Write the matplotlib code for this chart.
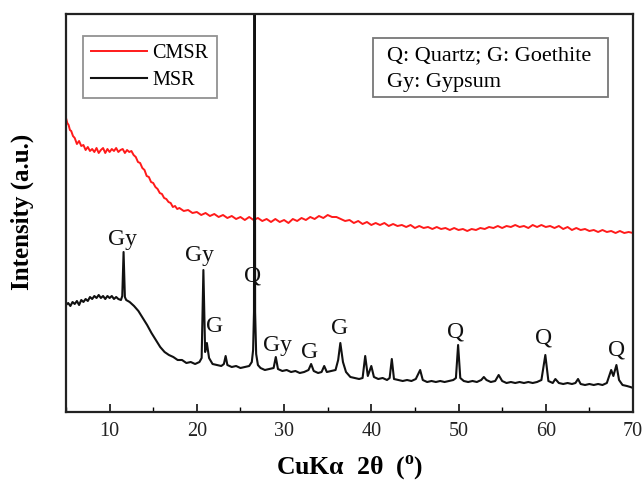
import matplotlib
matplotlib.use("Agg")
import matplotlib.pyplot as plt
from matplotlib.patches import Rectangle

plt.rcParams['font.family'] = ['Liberation Serif', 'DejaVu Serif']
plt.rcParams['mathtext.fontset'] = 'custom'
plt.rcParams['mathtext.rm'] = 'Liberation Serif'
plt.rcParams['mathtext.bf'] = 'Liberation Serif:bold'

# ---------------- data (2theta in degrees, intensity a.u.) ----------------
series_names = ["CMSR", "MSR"]

cmsr_2theta = [5.0, 5.15, 5.3, 5.45, 5.6, 5.8, 6.0, 6.25, 6.5, 6.75,
               7.0, 7.25, 7.5, 7.75, 8.0, 8.25, 8.5, 8.75, 9.0, 9.25,
               9.5, 9.75, 10.0, 10.25, 10.5, 10.75, 11.0, 11.25, 11.5, 11.75,
               12.0, 12.25, 12.5, 12.75, 13.0, 13.25, 13.5, 13.75, 14.0, 14.25,
               14.5, 14.75, 15.0, 15.25, 15.5, 15.75, 16.0, 16.25, 16.5, 16.75,
               17.0, 17.25, 17.5, 17.75, 18.0, 18.5, 19.0, 19.5, 20.0, 20.5,
               21.0, 21.5, 22.0, 22.5, 23.0, 23.5, 24.0, 24.5, 25.0, 25.5,
               26.0, 26.5, 27.0, 27.5, 28.0, 28.5, 29.0, 29.5, 30.0, 30.5,
               31.0, 31.5, 32.0, 32.5, 33.0, 33.5, 34.0, 34.5, 35.0, 35.5,
               36.0, 36.5, 37.0, 37.5, 38.0, 38.5, 39.0, 39.5, 40.0, 40.5,
               41.0, 41.5, 42.0, 42.5, 43.0, 43.5, 44.0, 44.5, 45.0, 45.5,
               46.0, 46.5, 47.0, 47.5, 48.0, 48.5, 49.0, 49.5, 50.0, 50.5,
               51.0, 51.5, 52.0, 52.5, 53.0, 53.5, 54.0, 54.5, 55.0, 55.5,
               56.0, 56.5, 57.0, 57.5, 58.0, 58.5, 59.0, 59.5, 60.0, 60.5,
               61.0, 61.5, 62.0, 62.5, 63.0, 63.5, 64.0, 64.5, 65.0, 65.5,
               66.0, 66.5, 67.0, 67.5, 68.0, 68.5, 69.0, 69.5, 70.0]
cmsr_intensity = [294, 289, 287, 282, 281, 276, 274, 268, 271, 266,
                  267, 262, 265, 261, 263, 260, 264, 259, 262, 264,
                  259, 263, 260, 263, 261, 264, 260, 262, 263, 259,
                  262, 260, 261, 257, 255, 250, 249, 244, 242, 236,
                  235, 230, 229, 225, 223, 219, 218, 214, 213, 210,
                  209, 205, 206, 203, 204, 201, 202, 199, 200, 197,
                  199, 196, 198, 195, 197, 194, 196, 193, 195, 192,
                  195, 192, 194, 191, 193, 190, 193, 190, 192, 189,
                  193, 191, 194, 192, 195, 193, 196, 194, 197, 195,
                  195, 193, 191, 192, 189, 191, 188, 190, 187, 189,
                  187, 189, 186, 188, 186, 187, 185, 187, 184, 186,
                  184, 185, 183, 185, 183, 184, 182, 184, 182, 183,
                  181, 183, 182, 184, 183, 185, 184, 186, 184, 186,
                  185, 187, 185, 186, 184, 187, 185, 187, 185, 186,
                  184, 186, 183, 185, 182, 184, 182, 183, 181, 182,
                  180, 182, 180, 181, 179, 181, 179, 180, 179]

msr_2theta = [5.0, 5.25, 5.5, 5.75, 6.0, 6.25, 6.5, 6.75, 7.0, 7.25,
              7.5, 7.75, 8.0, 8.25, 8.5, 8.75, 9.0, 9.25, 9.5, 9.75,
              10.0, 10.25, 10.5, 10.75, 11.0, 11.3, 11.45, 11.6, 11.75, 11.9,
              12.3, 12.8, 13.3, 13.8, 14.3, 14.8, 15.3, 15.8, 16.3, 16.8,
              17.3, 17.8, 18.3, 18.8, 19.3, 19.8, 20.3, 20.55, 20.75, 20.95,
              21.15, 21.4, 21.8, 22.3, 22.8, 23.1, 23.3, 23.5, 24.0, 24.5,
              25.0, 25.5, 26.0, 26.3, 26.45, 26.55, 26.62, 26.68, 26.8, 27.0,
              27.3, 27.8, 28.3, 28.8,
              29.05, 29.3, 29.8, 30.3, 30.8, 31.3, 31.8, 32.3, 32.8, 33.1,
              33.4, 33.9, 34.3, 34.6, 34.9, 35.4, 35.9, 36.2, 36.45, 36.75,
              37.1, 37.6, 38.1, 38.6, 39.0, 39.3, 39.6, 40.0, 40.3, 40.8,
              41.3, 41.8, 42.1, 42.35, 42.6, 43.1, 43.6, 44.1, 44.6, 45.1,
              45.6, 45.9, 46.4, 46.9, 47.4, 47.9, 48.4, 48.9, 49.4, 49.7,
              49.95, 50.2, 50.6, 51.1, 51.6, 52.1, 52.6, 52.9, 53.2, 53.7,
              54.2, 54.6, 55.0, 55.5, 56.0, 56.5, 57.0, 57.5, 58.0, 58.5,
              59.0, 59.5, 59.95, 60.3, 60.8, 61.1, 61.5, 62.0, 62.5, 63.0,
              63.4, 63.7, 64.0, 64.5, 65.0, 65.5, 66.0, 66.5, 67.0, 67.5,
              67.75, 68.1, 68.4, 68.8, 69.3, 69.7, 70.0]
msr_intensity = [107, 109, 106, 110, 108, 111, 107, 112, 110, 113,
                 111, 115, 113, 116, 114, 117, 114, 116, 113, 116,
                 114, 116, 113, 115, 113, 112, 116, 160, 115, 112,
                 110, 106, 101, 94, 87, 79, 72, 65, 60, 57,
                 55, 52, 52, 49, 50, 48, 50, 54, 142, 60,
                 69, 54, 48, 47, 46, 48, 56, 47, 45, 46,
                 44, 45, 46, 50, 62, 100, 700, 100, 58, 47,
                 44, 42, 43, 44,
                 55, 43, 41, 42, 40, 41, 39, 40, 42, 48,
                 41, 39, 40, 46, 40, 41, 42, 52, 69, 50,
                 40, 35, 34, 33, 34, 56, 36, 46, 35, 33,
                 34, 32, 34, 53, 33, 32, 31, 32, 31, 33,
                 42, 32, 30, 31, 30, 31, 30, 31, 32, 34,
                 67, 34, 31, 30, 31, 30, 32, 35, 32, 30,
                 31, 37, 31, 29, 30, 29, 30, 29, 30, 29,
                 30, 32, 57, 31, 29, 33, 29, 28, 29, 28,
                 29, 33, 28, 27, 28, 27, 28, 27, 29, 42,
                 36, 47, 32, 27, 26, 25, 24]

# phase labels: (text, 2theta, intensity)
peak_labels = ["Gy", "Gy", "Q", "G", "Gy", "G", "G", "Q", "Q", "Q"]
peak_label_x = [11.5, 20.3, 26.4, 22.0, 29.2, 32.9, 36.4, 49.7, 59.7, 68.1]
peak_label_y = [172, 157, 136, 85, 67, 60, 84, 80, 74, 62]

phase_key = ["Q: Quartz; G: Goethite", "Gy: Gypsum"]
x_ticks = [10, 20, 30, 40, 50, 60, 70]

# ---------------- figure ----------------
fig = plt.figure(figsize=(6.44, 4.82), dpi=100)
ax = fig.add_axes([66/644, 1 - 412/482, (633-66)/644, (412-14)/482])

ax.plot(cmsr_2theta, cmsr_intensity, color='#ff1a1a', lw=1.4, label=series_names[0])
ax.plot(msr_2theta, msr_intensity, color='#111111', lw=1.5, label=series_names[1])

for t, xx, yy in zip(peak_labels, peak_label_x, peak_label_y):
    ax.text(xx, yy, t, ha='center', va='center', fontsize=17, color='#111111')

ax.set_xlim(5, 70)
ax.set_ylim(0, 398)
ax.set_xticks(x_ticks)
ax.set_xticks(list(range(5, 71, 5)), minor=True)
ax.set_yticks([])
ax.tick_params(axis='x', which='major', direction='in', length=6, width=1.3,
               labelsize=14.5, pad=7, colors='#222222')
ax.tick_params(axis='x', which='minor', direction='in', length=3.5, width=1.0)
for s in ax.spines.values():
    s.set_linewidth(1.6)
    s.set_color('#222222')

ax.set_xlabel("CuK\u03b1  2\u03b8  ($^{\\mathbf{o}}$)", fontsize=18.5, fontweight='bold')
ax.xaxis.set_label_coords(0.5, -0.1407)
ax.xaxis.label.set_va('center')
ax.set_ylabel("Intensity (a.u.)", fontsize=18, fontweight='bold')
ax.yaxis.set_label_coords(-0.0776, 0.5025)
ax.yaxis.label.set_va('center')

leg = ax.legend(loc='upper left', bbox_to_anchor=(0.03, 0.945), borderaxespad=0,
                fontsize=14.5, frameon=True, fancybox=False, handlelength=2.8,
                handletextpad=0.25, borderpad=0.4, labelspacing=0.4)
leg.get_frame().set_edgecolor('#777777')
leg.get_frame().set_linewidth(1.3)

ax.add_patch(Rectangle((0.5414, 0.7915), 0.956 - 0.5414, 0.9397 - 0.7915,
                       transform=ax.transAxes, fill=False, edgecolor='#777777', lw=1.3))
ax.text(0.566, 0.895, phase_key[0], transform=ax.transAxes, fontsize=16, va='center', ha='left')
ax.text(0.566, 0.827, phase_key[1], transform=ax.transAxes, fontsize=16, va='center', ha='left')

fig.savefig("out.png", dpi=100)
